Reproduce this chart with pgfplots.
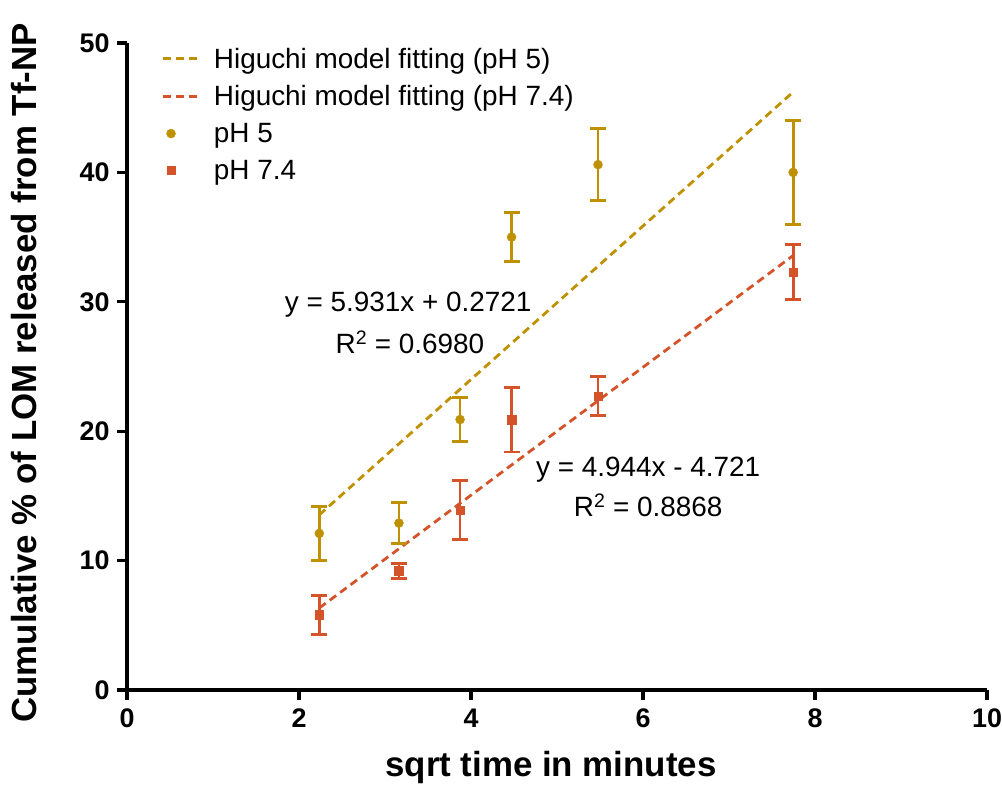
\documentclass[border=0pt]{standalone}
\usepackage{fontspec}
\setmainfont{Liberation Sans}
\usepackage{pgfplots}
\pgfplotsset{compat=1.18}
\definecolor{gold}{RGB}{191,144,0}
\definecolor{rust}{RGB}{213,83,40}
\pgfplotsset{dashleg/.style={legend image code/.code={%
  \draw[##1,dash pattern=on 8bp off 5bp] (0bp,0bp) -- (34bp,0bp);}}}
\begin{document}
\begin{tikzpicture}
\path[use as bounding box] (-127bp,-95bp) rectangle (875bp,690bp);
\begin{axis}[
  at={(0,0)},anchor=south west,
  scale only axis,width=860bp,height=647bp,
  xmin=0,xmax=10,ymin=0,ymax=50,
  xtick={0,2,...,10},ytick={0,10,...,50},
  axis x line*=bottom,axis y line*=left,
  axis line style={line width=3.2bp,black,-},
  tick style={line width=3.2bp,black},
  tick align=outside,major tick length=10bp,
  /pgf/number format/assume math mode=true,
  tick label style={font=\bfseries\fontsize{27}{27}\selectfont},
  xticklabel style={yshift=-5bp},
  yticklabel style={xshift=-4bp},
  xlabel={sqrt time in minutes},
  ylabel={Cumulative \% of LOM released from Tf-NP},
  label style={font=\bfseries\fontsize{35}{35}\selectfont},
  xlabel style={at={(axis description cs:0.493,-0.12)},anchor=center},
  ylabel style={at={(axis description cs:-0.12,0.49)},anchor=center},
  legend cell align=left,
  legend style={at={(0.036,0.999)},anchor=north west,draw=none,fill=none,
    font=\fontsize{28}{28}\selectfont,row sep=12bp,
    /tikz/every odd column/.append style={column sep=14bp}},
  clip=false]
\addplot[gold,line width=2.8bp,dash pattern=on 8bp off 5bp,dashleg]
  coordinates {(2.236,13.534) (7.746,46.213)};
\addlegendentry{Higuchi model fitting (pH 5)}
\addplot[rust,line width=2.8bp,dash pattern=on 8bp off 5bp,dashleg]
  coordinates {(2.236,6.334) (7.746,33.575)};
\addlegendentry{Higuchi model fitting (pH 7.4)}
\addplot[gold,only marks,mark=*,mark size=4.5bp,
  error bars/.cd,y dir=both,y explicit,
  error bar style={line width=2.8bp,gold},
  error mark options={rotate=90,mark size=8bp,line width=2.8bp,gold}]
  coordinates {
  (2.236,12.1) +- (0,2.1)
  (3.162,12.9) +- (0,1.6)
  (3.873,20.9) +- (0,1.7)
  (4.472,35.0) +- (0,1.9)
  (5.477,40.6) +- (0,2.8)
  (7.746,40.0) +- (0,4.0)
  };
\addlegendentry{pH 5}
\addplot[rust,only marks,mark=square*,mark size=4.3bp,
  error bars/.cd,y dir=both,y explicit,
  error bar style={line width=2.8bp,rust},
  error mark options={rotate=90,mark size=8bp,line width=2.8bp,rust}]
  coordinates {
  (2.236,5.8) +- (0,1.5)
  (3.162,9.2) +- (0,0.6)
  (3.873,13.9) +- (0,2.3)
  (4.472,20.9) +- (0,2.5)
  (5.477,22.7) +- (0,1.5)
  (7.746,32.3) +- (0,2.15)
  };
\addlegendentry{pH 7.4}
\node[font=\fontsize{28}{28}\selectfont] at (axis cs:3.27,29.75) {y = 5.931x + 0.2721};
\node[font=\fontsize{28}{28}\selectfont] at (axis cs:3.29,26.9) {R\textsuperscript{2} = 0.6980};
\node[font=\fontsize{28}{28}\selectfont] at (axis cs:6.06,17.0) {y = 4.944x - 4.721};
\node[font=\fontsize{28}{28}\selectfont] at (axis cs:6.06,14.3) {R\textsuperscript{2} = 0.8868};
\end{axis}
\end{tikzpicture}
\end{document}
